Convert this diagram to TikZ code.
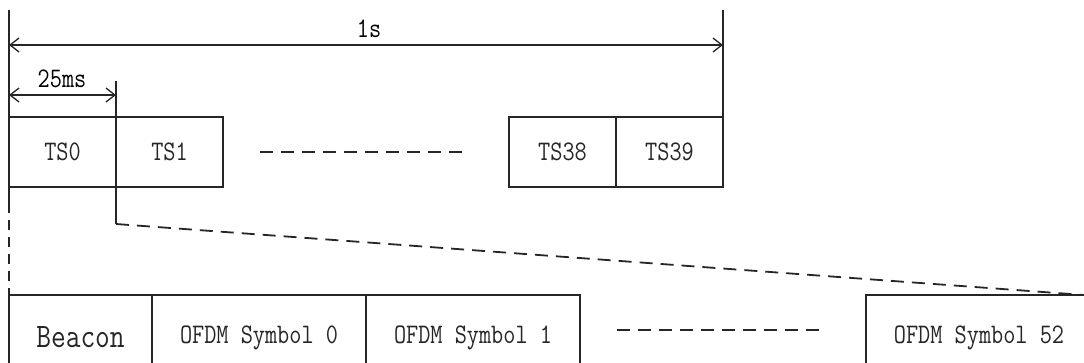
\documentclass[tikz,border=0pt]{standalone}
\usepackage{fontspec}
\usepackage{graphicx}
\usetikzlibrary{arrows.meta}
\newcommand\stretchtxt[1]{\scalebox{1}[1.2]{#1}}
\begin{document}
\begin{tikzpicture}[x=1pt,y=-1pt,
  ln/.style={line width=1.3pt, black!85},
  box/.style={draw, line width=1.3pt, black!85, inner sep=0pt, outer sep=0pt, anchor=north west,
     minimum height=70pt, font=\fontsize{23.6}{24}\ttfamily},
  obox/.style={box, minimum height=85pt, font=\fontsize{23.6}{24}\ttfamily},
  dim/.style={ln, {Straight Barb[length=9pt,width=14pt]}-{Straight Barb[length=9pt,width=14pt]}},
  lab/.style={font=\fontsize{23.6}{24}\ttfamily, inner sep=0pt},
  dsh/.style={line width=1.8pt, black!85, dash pattern=on 13pt off 8pt},
]
\useasboundingbox (0,0) rectangle (1084,362);
\clip (0,0) rectangle (1084,362);
% top boxes
\node[box, minimum width=107pt] (ts0) at (9,117) {\stretchtxt{TS0}};
\node[box, minimum width=107pt] (ts1) at (116,117) {\stretchtxt{TS1}};
\node[box, minimum width=107pt] (ts38) at (509,117) {\stretchtxt{TS38}};
\node[box, minimum width=107pt] (ts39) at (616,117) {\stretchtxt{TS39}};
% bottom boxes
\node[obox, minimum width=143pt] (beacon) at (9,295) {\raisebox{-12pt}{\fontsize{28.6}{29}\ttfamily\stretchtxt{Beacon}}};
\node[obox, minimum width=214pt] (s0) at (152,295) {\raisebox{-12pt}{\stretchtxt{OFDM Symbol 0}}};
\node[obox, minimum width=214pt] (s1) at (366,295) {\raisebox{-12pt}{\stretchtxt{OFDM Symbol 1}}};
\node[obox, minimum width=226pt] (s52) at (866,295) {\raisebox{-12pt}{\stretchtxt{OFDM Symbol 52}}};
% dashes between boxes
\coordinate (d1a) at (260,152); \coordinate (d1b) at (462,152);
\draw[dsh] (d1a) -- (d1b);
\coordinate (d2a) at (617,330); \coordinate (d2b) at (819,330);
\draw[dsh] (d2a) -- (d2b);
% vertical guides
\coordinate (ltop) at (9,10);
\coordinate (lmid) at (9,203);
\draw[ln] (ltop) -- (lmid);
\draw[line width=1.8pt, black!85, dash pattern=on 10pt off 7pt] (lmid) -- (beacon.north west);
\coordinate (rtop) at (723,10);
\draw[ln] (rtop) -- (ts39.north east);
\coordinate (mtop) at (116,81);
\coordinate (mbend) at (116,224);
\coordinate (far) at (1084,295);
\draw[ln] (mtop) -- (mbend);
\draw[dsh] (mbend) -- (far);
% dimension arrows
\coordinate (a1) at (9,45); \coordinate (a2) at (723,45);
\draw[dim] (a1) -- (a2);
\node[lab] (l1s) at (369,29) {\stretchtxt{1s}};
\coordinate (b1) at (9,95); \coordinate (b2) at (116,95);
\draw[dim] (b1) -- (b2);
\node[lab] (l25) at (62,79) {\stretchtxt{25ms}};
\end{tikzpicture}
\end{document}
